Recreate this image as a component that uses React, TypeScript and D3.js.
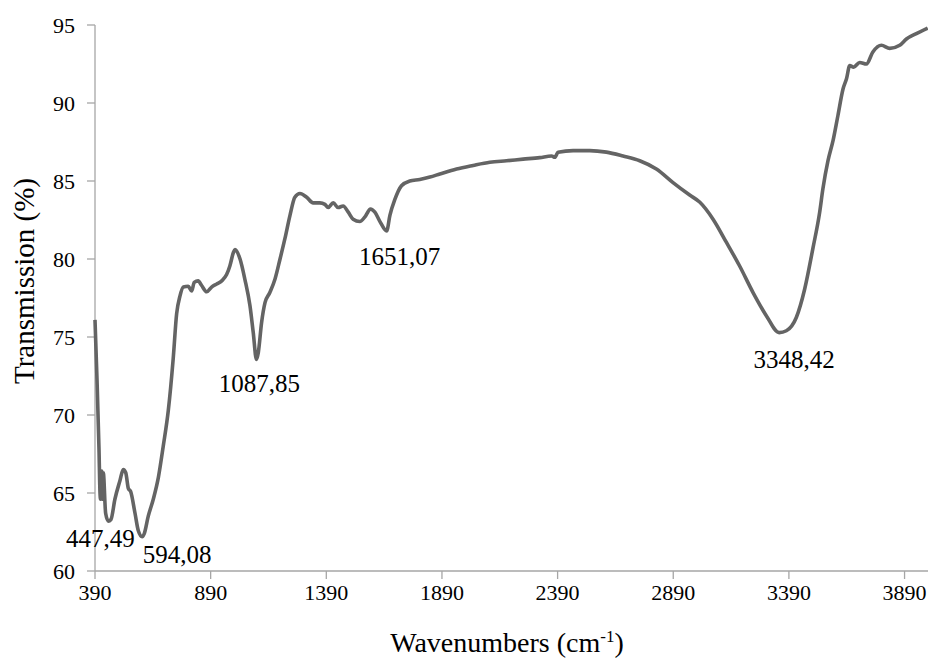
import React from "react";
import * as d3 from "d3";

const wavenumbers = [
  390, 398.6, 407.3, 411.6, 414, 419, 421.5, 425.9, 436, 447.5, 459, 476, 498, 512, 523, 534, 544, 563, 577, 594,
  603, 620, 642, 664, 685, 707, 728, 743, 757, 772, 793, 808, 819, 836, 851, 873, 894, 916, 938, 959,
  973, 988, 995, 1017, 1038, 1060, 1074, 1088, 1096, 1110, 1125, 1146, 1168, 1190, 1211, 1233, 1254, 1276, 1305, 1333,
  1362, 1384, 1398, 1420, 1441, 1463, 1485, 1506, 1535, 1557, 1581, 1600, 1622, 1651, 1665, 1686, 1715, 1751, 1794, 1838,
  1881, 1953, 2025, 2097, 2169, 2241, 2313, 2364, 2378, 2392, 2457, 2529, 2601, 2673, 2745, 2817, 2889, 2961, 3004, 3062,
  3120, 3177, 3235, 3293, 3348, 3379, 3422, 3458, 3494, 3523, 3537, 3559, 3581, 3602, 3624, 3639, 3653, 3670, 3696, 3725,
  3753, 3790, 3826, 3869, 3898, 3941, 3990,
];
const transmission = [
  76.1, 72.3, 67.8, 65.0, 64.6, 66.4, 64.6, 66.3, 63.7, 63.2, 63.3, 64.6, 65.8, 66.5, 66.3, 65.3, 65.1, 63.7, 62.6, 62.2,
  62.4, 63.5, 64.6, 66.0, 68.0, 70.3, 73.6, 76.5, 77.6, 78.2, 78.25, 77.95, 78.5, 78.6, 78.3, 77.9, 78.2, 78.4, 78.6, 79.0,
  79.55, 80.4, 80.6, 80.0, 78.7, 77.0, 75.3, 73.56, 74.0, 75.9, 77.2, 77.85, 78.7, 80.0, 81.3, 82.8, 83.96, 84.2, 83.96, 83.6,
  83.6, 83.5, 83.3, 83.6, 83.3, 83.4, 83.0, 82.55, 82.4, 82.7, 83.2, 83.0, 82.4, 81.8, 82.8, 83.8, 84.7, 85.0, 85.1, 85.25,
  85.45, 85.77, 86.0, 86.2, 86.3, 86.4, 86.5, 86.6, 86.52, 86.85, 86.95, 86.95, 86.85, 86.6, 86.3, 85.77, 84.9, 84.1, 83.65, 82.55,
  81.06, 79.55, 77.85, 76.35, 75.28, 75.4, 76.25, 78.06, 80.7, 83.0, 84.5, 86.3, 87.6, 89.2, 90.9, 91.55, 92.4, 92.3, 92.6, 92.5,
  93.27, 93.7, 93.5, 93.7, 94.1, 94.45, 94.8,
];

const xTicks = [390, 890, 1390, 1890, 2390, 2890, 3390, 3890];
const yTicks = [60, 65, 70, 75, 80, 85, 90, 95];

const peakLabels = ["447,49", "594,08", "1087,85", "1651,07", "3348,42"];
const peakWn = [447.5, 594, 1088, 1651, 3348];
const peakT = [63.2, 62.2, 73.56, 81.8, 75.28];
const peakOffsets = [
  [-8, 26],
  [35, 26],
  [3, 33],
  [13, 34],
  [15, 35],
];

const W = 928;
const H = 659;
const font = '"Liberation Serif", "Times New Roman", Tinos, "DejaVu Serif", serif';
const txt = { fontFamily: font };

export default function App() {
  const x = d3.scaleLinear().domain([390, 4000]).range([95, 930]);
  const y = d3.scaleLinear().domain([60, 95]).range([571, 25]);
  const pts: [number, number][] = wavenumbers.map((w, i) => [w, transmission[i]]);
  const line = d3
    .line<[number, number]>()
    .x((d) => x(d[0]))
    .y((d) => y(d[1]))
    .curve(d3.curveMonotoneX);
  const axisColor = "#a6a6a6";
  return (
    <svg
      width={W}
      height={H}
      style={{ position: "absolute", left: 0, top: 0, background: "#fff", fontFamily: font }}
    >
      {/* y axis */}
      <line x1={95} x2={95} y1={y(95)} y2={y(60)} stroke={axisColor} strokeWidth={1.3} />
      {yTicks.map((t) => (
        <g key={"y" + t}>
          <line x1={87} x2={95} y1={y(t)} y2={y(t)} stroke={axisColor} strokeWidth={1.3} />
          <text x={75} y={y(t)} dy="0.35em" textAnchor="end" fontSize={22} fill="#000" style={txt}>
            {t}
          </text>
        </g>
      ))}
      {/* x axis */}
      <line x1={95} x2={928} y1={y(60)} y2={y(60)} stroke={axisColor} strokeWidth={1.3} />
      {xTicks.map((t) => (
        <g key={"x" + t}>
          <line x1={x(t)} x2={x(t)} y1={y(60)} y2={y(60) + 8} stroke={axisColor} strokeWidth={1.3} />
          <text x={x(t)} y={600} textAnchor="middle" fontSize={22} fill="#000" style={txt}>
            {t}
          </text>
        </g>
      ))}
      {/* spectrum */}
      <path d={line(pts) || ""} fill="none" stroke="#646464" strokeWidth={3.6} strokeLinejoin="round" />
      {/* peak labels */}
      {peakLabels.map((lab, i) => (
        <text
          key={lab}
          x={x(peakWn[i]) + peakOffsets[i][0]}
          y={y(peakT[i]) + peakOffsets[i][1]}
          textAnchor="middle"
          fontSize={25}
          fill="#000"
          style={txt}
        >
          {lab}
        </text>
      ))}
      {/* axis titles */}
      <text x={507} y={652} textAnchor="middle" fontSize={28} fill="#000" style={txt}>
        Wavenumbers (cm
        <tspan fontSize={17} dy={-10}>
          -1
        </tspan>
        <tspan dy={10}>)</tspan>
      </text>
      <text
        transform="translate(34,281) rotate(-90)"
        textAnchor="middle"
        fontSize={29}
        fill="#000"
        style={txt}
      >
        Transmission (%)
      </text>
    </svg>
  );
}
